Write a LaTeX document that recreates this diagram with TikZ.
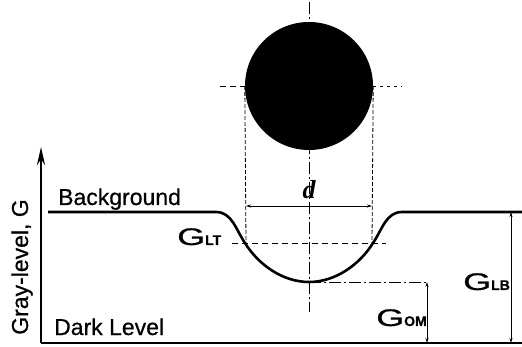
\documentclass[tikz,border=0pt]{standalone}
\usepackage{fontspec}
\setmainfont{Liberation Sans}[FakeBold=0.6]
\newfontfamily\serifit{Liberation Serif}
\usetikzlibrary{arrows.meta}
\tikzset{
  thick curve/.style={line width=2.6pt},
  dimarrow/.style={line width=0.8pt,{Stealth[length=5pt,width=3pt]}-{Stealth[length=5pt,width=3pt]}},
  dashline/.style={line width=0.8pt,dash pattern=on 6pt off 4pt},
  dashdot/.style={line width=0.8pt,dash pattern=on 12pt off 3pt on 2pt off 3pt},
  lbl/.style={inner sep=0pt,font=\fontsize{23}{23}\selectfont},
  glbl/.style={inner sep=0pt,font=\fontsize{24}{24}\selectfont},
}
\newcommand{\gsub}[1]{\scalebox{1.5}[1]{G}{\fontsize{14}{14}\selectfont\bfseries #1}}
\begin{document}
\begin{tikzpicture}[x=1pt,y=-1pt]
\useasboundingbox (0,0) rectangle (522,347);
% circle
\node[circle,fill=black,minimum size=128pt,inner sep=0pt] (dot) at (309,86) {};
% crosshair
\coordinate (ch1) at (220,86);
\coordinate (ch2) at (402,86);
\coordinate (cv1) at (309,2);
\coordinate (cv2) at (309,312);
\draw[dashline] (ch1) -- (dot.west);
\draw[dashline,dash pattern=on 3pt off 4pt] (dot.east) -- (ch2);
\draw[dashdot] (cv1) -- (cv2);
% vertical extension lines
\coordinate (vl) at (246,244);
\coordinate (vr) at (372,244);
\draw[dashline,dash pattern=on 4pt off 2pt] (dot.west) -- (vl);
\draw[dashline,dash pattern=on 4pt off 2pt] (dot.east) -- (vr);
% d dimension
\coordinate (dl) at (246,206);
\coordinate (dr) at (372,206);
\draw[dimarrow] (dl) -- (dr);
\node[inner sep=0pt,font=\serifit\bfseries\itshape\fontsize{26}{26}\selectfont] (d) at (309,190) {d};
% profile curve
\coordinate (p0) at (48,212);
\coordinate (pl) at (245,243);
\coordinate (pb) at (309,282);
\coordinate (pr) at (373,243);
\coordinate (p1) at (522,212);
\draw[thick curve] (p0) -- (216,212) .. controls (232,212) and (236,230) .. (pl)
  .. controls (258,264) and (282,282) .. (pb)
  .. controls (336,282) and (360,264) .. (pr)
  .. controls (382,230) and (386,212) .. (402,212) -- (p1);
% G_LT dashed line
\coordinate (lt1) at (232,243);
\coordinate (lt2) at (386,243);
\draw[dashline] (lt1) -- (lt2);
% min line
\coordinate (om) at (427,282);
\draw[dashdot] (pb) -- (om);
% axes
\coordinate (o) at (41,343);
\coordinate (ytop) at (41,147);
\coordinate (xend) at (522,343);
\draw[line width=2.6pt,-{Stealth[length=18pt,width=8pt]}] (o) -- (ytop);
\draw[line width=2.6pt] (o) -- (xend);
% dimension arrows
\coordinate (omb) at (427,343);
\coordinate (lbt) at (511,212);
\coordinate (lbb) at (511,343);
\draw[dimarrow] (om) -- (omb);
\draw[dimarrow] (lbt) -- (lbb);
% labels
\node[lbl,anchor=base west] (bg) at (58,205) {Background};
\node[lbl,anchor=base west] (dk) at (54,335) {Dark Level};
\node[lbl,rotate=90,anchor=base] (gy) at (28,267) {Gray-level, G};
\node[glbl,anchor=base west] (glt) at (177,245) {\gsub{LT}};
\node[glbl,anchor=base west] (glb) at (463,290) {\gsub{LB}};
\node[glbl,anchor=base west] (gom) at (376,326) {\gsub{OM}};
\end{tikzpicture}
\end{document}
